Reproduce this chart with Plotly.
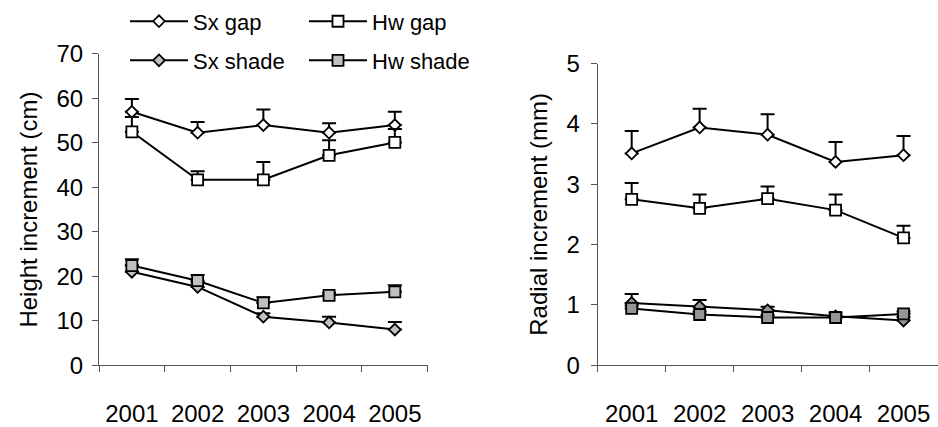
import plotly.graph_objects as go

years = ["2001", "2002", "2003", "2004", "2005"]

# Height increment (cm): means and upper standard errors
height_sx_gap = [57.0, 52.3, 54.0, 52.3, 54.0]
height_sx_gap_se = [2.9, 2.4, 3.5, 2.1, 3.0]
height_hw_gap = [52.5, 41.7, 41.7, 47.2, 50.1]
height_hw_gap_se = [3.3, 1.9, 4.0, 3.4, 3.0]
height_sx_shade = [21.0, 17.6, 10.9, 9.6, 8.0]
height_sx_shade_se = [1.5, 1.0, 0.8, 1.3, 1.7]
height_hw_shade = [22.4, 19.0, 14.0, 15.7, 16.5]
height_hw_shade_se = [1.4, 1.3, 1.3, 0.6, 1.5]

# Radial increment (mm): means and upper standard errors
radial_sx_gap = [3.51, 3.94, 3.82, 3.37, 3.48]
radial_sx_gap_se = [0.37, 0.31, 0.34, 0.33, 0.32]
radial_hw_gap = [2.75, 2.60, 2.76, 2.57, 2.11]
radial_hw_gap_se = [0.27, 0.23, 0.20, 0.26, 0.20]
radial_sx_shade = [1.03, 0.97, 0.91, 0.81, 0.74]
radial_sx_shade_se = [0.15, 0.11, 0.06, 0.06, 0.06]
radial_hw_shade = [0.94, 0.84, 0.79, 0.79, 0.85]
radial_hw_shade_se = [0.05, 0.05, 0.04, 0.03, 0.04]

FONT = "Liberation Sans, Arial, sans-serif"
W, H = 938, 427

fig = go.Figure()


def add_series(name, y, se, symbol, fill, xa, ya, legend, showlegend):
    size = 9 if symbol == "diamond" else 11
    fig.add_trace(go.Scatter(
        x=years, y=y, name=name, mode="lines+markers",
        xaxis=xa, yaxis=ya, legend=legend, showlegend=showlegend,
        line=dict(color="black", width=2),
        marker=dict(symbol=symbol, size=size, color=fill,
                    line=dict(color="black", width=1.8)),
        error_y=dict(type="data", symmetric=False, array=se,
                     arrayminus=[0] * len(se), color="black",
                     thickness=2, width=7),
    ))


LIGHT = "#c0c0c0"
MID = "#969696"

add_series("Sx gap", height_sx_gap, height_sx_gap_se, "diamond", "white", "x", "y", "legend", True)
add_series("Hw gap", height_hw_gap, height_hw_gap_se, "square", "white", "x", "y", "legend", True)
add_series("Sx shade", height_sx_shade, height_sx_shade_se, "diamond", LIGHT, "x", "y", "legend2", True)
add_series("Hw shade", height_hw_shade, height_hw_shade_se, "square", LIGHT, "x", "y", "legend2", True)

add_series("Sx gap", radial_sx_gap, radial_sx_gap_se, "diamond", "white", "x2", "y2", "legend", False)
add_series("Hw gap", radial_hw_gap, radial_hw_gap_se, "square", "white", "x2", "y2", "legend", False)
add_series("Sx shade", radial_sx_shade, radial_sx_shade_se, "diamond", MID, "x2", "y2", "legend2", False)
add_series("Hw shade", radial_hw_shade, radial_hw_shade_se, "square", MID, "x2", "y2", "legend2", False)


def px_x(p):
    return p / W


def px_y(p):
    return (H - p) / H


axis_common = dict(
    showline=True, linecolor="#555555", linewidth=1, mirror=False,
    ticks="outside", ticklen=6, tickcolor="#555555", tickwidth=1,
    showgrid=False, zeroline=False,
    tickfont=dict(family=FONT, size=24, color="black"),
)

xaxis_common = dict(axis_common, type="category", range=[-0.5, 4.5],
                    tickson="boundaries", ticklabelstandoff=27)

legend_common = dict(orientation="h", x=px_x(125), xanchor="left",
                     yanchor="middle", bgcolor="rgba(0,0,0,0)",
                     itemwidth=58, entrywidth=106, entrywidthmode="pixels",
                     font=dict(family=FONT, size=22), traceorder="normal")

fig.update_layout(
    width=W, height=H,
    margin=dict(l=0, r=0, t=0, b=0),
    paper_bgcolor="white", plot_bgcolor="white",
    font=dict(family=FONT, size=24, color="black"),
    xaxis=dict(xaxis_common, domain=[px_x(99), px_x(427.7)], anchor="y"),
    yaxis=dict(axis_common, domain=[px_y(377.7), px_y(43)], range=[0, 70],
               dtick=10, anchor="x", ticklabelstandoff=4,
               title=dict(text="Height increment (cm)", standoff=12,
                          font=dict(family=FONT, size=24))),
    xaxis2=dict(xaxis_common, domain=[px_x(597.7), px_x(937.5)], anchor="y2"),
    yaxis2=dict(axis_common, domain=[px_y(377.7), px_y(53.3)], range=[0, 5],
                dtick=1, anchor="x2", ticklabelstandoff=6,
                title=dict(text="Radial increment (mm)", standoff=12,
                           font=dict(family=FONT, size=24))),
    legend=dict(legend_common, y=px_y(8)),
    legend2=dict(legend_common, y=px_y(50)),
    showlegend=True,
)

fig.write_html("out.html")
